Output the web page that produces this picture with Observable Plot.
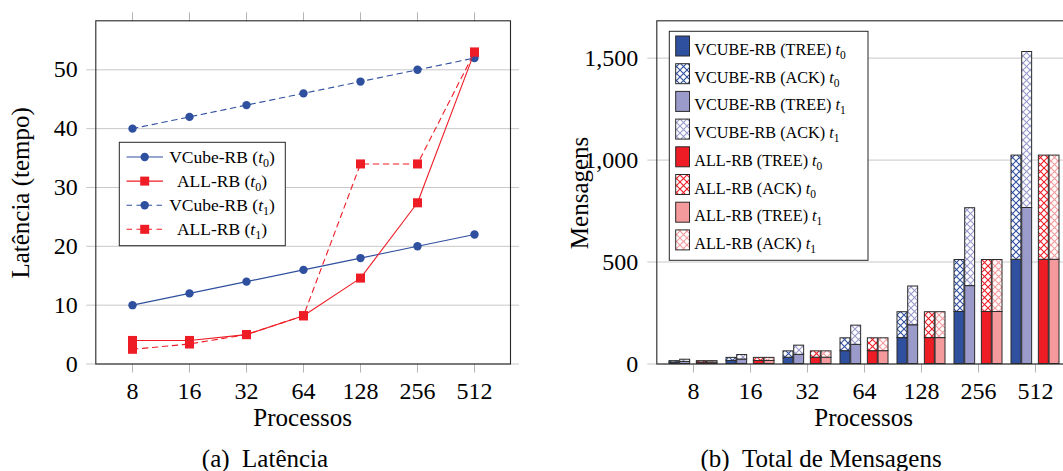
<!DOCTYPE html>
<html>
<head>
<meta charset="utf-8">
<script src="https://cdn.jsdelivr.net/npm/d3@7"></script>
<script src="https://cdn.jsdelivr.net/npm/@observablehq/plot@0.6"></script>
<style>
html, body { margin: 0; padding: 0; background: #fff; overflow: hidden; }
#page { position: relative; width: 1063px; height: 471px; overflow: hidden; background: #fff;
        font-family: "Liberation Serif", "Times New Roman", serif; color: #000; }
.panel { position: absolute; top: 0; width: 530px; height: 430px; }
.caption { position: absolute; top: 446px; font-size: 25px; line-height: 25px; white-space: nowrap;
           transform: translateX(-50%); }
</style>
</head>
<body>
<div id="page">
  <svg width="0" height="0" style="position:absolute;left:0;top:0"><defs id="defs"></defs></svg>
  <div id="chartA" class="panel" style="left:0px"></div>
  <div id="chartB" class="panel" style="left:561px"></div>
  <div class="caption" style="left:265px">(a)&ensp;Latência</div>
  <div class="caption" style="left:821px">(b)&ensp;Total de Mensagens</div>
</div>
<script>
// ---------------- data ----------------
const processos = ["8", "16", "32", "64", "128", "256", "512"];

// (a) Latência (tempo)
const latVCubeT0 = [10, 12, 14, 16, 18, 20, 22];
const latAllT0   = [4, 4, 5, 8.2, 14.6, 27.4, 53];
const latVCubeT1 = [40, 42, 44, 46, 48, 50, 52];
const latAllT1   = [2.5, 3.4, 5, 8.2, 34, 34, 53];
const latYTicks  = [0, 10, 20, 30, 40, 50];
const latLegendNames = ["VCube-RB", "ALL-RB", "VCube-RB", "ALL-RB"];
const latLegendSubs  = ["0", "0", "1", "1"];

// (b) Total de Mensagens
const vcubeTreeT0 = [7, 15, 31, 63, 127, 255, 511];
const vcubeAckT0  = [7, 15, 31, 63, 127, 255, 511];
const vcubeTreeT1 = [10.5, 22, 45, 94, 190, 382, 765];
const vcubeAckT1  = [10.5, 22, 45, 94, 190, 382, 765];
const allTreeT0   = [7, 15, 31, 63, 127, 255, 511];
const allAckT0    = [7, 15, 31, 63, 127, 255, 511];
const allTreeT1   = [7, 15, 31, 63, 127, 255, 511];
const allAckT1    = [7, 15, 31, 63, 127, 255, 511];
const msgYTicks   = [0, 500, 1000, 1500];
const msgLegendNames = ["VCUBE-RB (TREE)", "VCUBE-RB (ACK)", "VCUBE-RB (TREE)", "VCUBE-RB (ACK)",
                        "ALL-RB (TREE)", "ALL-RB (ACK)", "ALL-RB (TREE)", "ALL-RB (ACK)"];
const msgLegendSubs  = ["0", "0", "1", "1", "0", "0", "1", "1"];

// ---------------- styles ----------------
const FONT = '"Liberation Serif","Times New Roman",serif';
const BLUE = "#2f4f9f", RED = "#ee1c25", LAV = "#9a9acb", PINK = "#f4999c";
const GRID = "#c8c8c8", TICK = "#b4b4b4", FRAME = "#262626", BARSTROKE = "#2a2a2a";
const W = 530, H = 430, ML = 95.3, MR = 20, MT = 20.3, MB = H - 363.5;
const XLABEL_Y = 425.5;

// crosshatch patterns
const defs = d3.select("#defs");
function hatch(id, color) {
  const s = 7;
  const p = defs.append("pattern").attr("id", id).attr("patternUnits", "userSpaceOnUse")
    .attr("width", s).attr("height", s);
  p.append("rect").attr("width", s).attr("height", s).attr("fill", "#fff");
  p.append("path").attr("d", `M-1,-1L${s + 1},${s + 1}M${s + 1},-1L-1,${s + 1}`)
    .attr("stroke", color).attr("stroke-width", 1.1).attr("fill", "none");
}
hatch("hBlue", BLUE); hatch("hLav", LAV); hatch("hRed", RED); hatch("hPink", PINK);

function subLabel(sel, name, sub, paren, subSize) {
  sel.append("tspan").text(name + (paren ? " (" : " "));
  sel.append("tspan").attr("font-style", "italic").text("t");
  sel.append("tspan").attr("dy", 4).attr("font-size", subSize).text(sub);
  if (paren) sel.append("tspan").attr("dy", -4).text(")");
}

// ---------------- chart (a) ----------------
const rowsOf = vals => processos.map((p, i) => ({p, v: vals[i]}));
const latSeries = [
  {vals: latVCubeT0, color: BLUE, dash: null, symbol: "circle"},
  {vals: latAllT0, color: RED, dash: null, symbol: "square"},
  {vals: latVCubeT1, color: BLUE, dash: "5.5,4.5", symbol: "circle"},
  {vals: latAllT1, color: RED, dash: "5.5,4.5", symbol: "square"}
];
const latMarks = [
  Plot.ruleY(latYTicks, {stroke: GRID, strokeWidth: 1, insetLeft: -9, insetRight: -9}),
  Plot.axisX({anchor: "bottom", tickSize: 9, tickPadding: 8.5, stroke: TICK, fill: "#000", fontSize: 24, label: null}),
  Plot.axisX({anchor: "top", tickSize: 9, stroke: TICK, tickFormat: () => "", label: null}),
  Plot.axisY({anchor: "left", ticks: latYTicks, tickSize: 0, tickPadding: 18, fill: "#000", fontSize: 24, label: null}),
  Plot.frame({stroke: FRAME, strokeWidth: 1.1})
];
for (const s of latSeries) {
  const rows = rowsOf(s.vals);
  latMarks.push(Plot.line(rows, {x: "p", y: "v", stroke: s.color, strokeWidth: 1.1, strokeDasharray: s.dash}));
  latMarks.push(Plot.dot(rows, {x: "p", y: "v", symbol: s.symbol, r: s.symbol === "circle" ? 4.2 : 5.1, fill: s.color, stroke: "none"}));
}
const svgA = Plot.plot({
  width: W, height: H, marginLeft: ML, marginRight: MR, marginTop: MT, marginBottom: MB,
  style: {fontFamily: FONT, fontSize: "24px", background: "transparent", maxWidth: "none", overflow: "visible"},
  x: {type: "point", domain: processos, padding: 0.6, label: null},
  y: {domain: [0, 58.33], label: null},
  marks: latMarks
});
document.getElementById("chartA").append(svgA);
{
  const g = d3.select(svgA).append("g").attr("font-family", FONT);
  g.append("text").attr("x", (ML + W - MR) / 2).attr("y", XLABEL_Y).attr("text-anchor", "middle")
    .attr("font-size", 25).text("Processos");
  g.append("text").attr("transform", `translate(28.5,${(MT + H - MB) / 2 + 1}) rotate(-90)`)
    .attr("text-anchor", "middle").attr("font-size", 25).text("Latência (tempo)");
  const lg = g.append("g");
  lg.append("rect").attr("x", 119.3).attr("y", 142.3).attr("width", 166).attr("height", 103.4)
    .attr("fill", "#fff").attr("stroke", FRAME).attr("stroke-width", 1);
  latSeries.forEach((s, i) => {
    const y = 157 + i * 24.1;
    lg.append("line").attr("x1", 126.5).attr("x2", 163).attr("y1", y).attr("y2", y)
      .attr("stroke", s.color).attr("stroke-width", 1.1).attr("stroke-dasharray", s.dash);
    if (s.symbol === "circle") lg.append("circle").attr("cx", 144.7).attr("cy", y).attr("r", 4.2).attr("fill", s.color);
    else lg.append("rect").attr("x", 144.7 - 4.5).attr("y", y - 4.5).attr("width", 9).attr("height", 9).attr("fill", s.color);
    const t = lg.append("text").attr("x", 222).attr("y", y + 5.8).attr("text-anchor", "middle").attr("font-size", 17.5);
    subLabel(t, latLegendNames[i], latLegendSubs[i], true, 12);
  });
}

// ---------------- chart (b) ----------------
const padIn = 0.1534, padOut = 0.1767;
const frameW = W - ML - MR;
const step = frameW / (processos.length - padIn + 2 * padOut);
const bandW = step * (1 - padIn);
const BAR_W = 10.7;
const GAP = bandW - 4 * BAR_W;
const msgSeries = [
  {tree: vcubeTreeT0, ack: vcubeAckT0, solid: BLUE, hatch: "url(#hBlue)", left: 0},
  {tree: vcubeTreeT1, ack: vcubeAckT1, solid: LAV, hatch: "url(#hLav)", left: BAR_W},
  {tree: allTreeT0, ack: allAckT0, solid: RED, hatch: "url(#hRed)", left: 2 * BAR_W + GAP},
  {tree: allTreeT1, ack: allAckT1, solid: PINK, hatch: "url(#hPink)", left: 3 * BAR_W + GAP}
];
const msgMarks = [
  Plot.ruleY(msgYTicks, {stroke: GRID, strokeWidth: 1, insetLeft: -9, insetRight: -9}),
  Plot.axisX({anchor: "bottom", tickSize: 9, tickPadding: 8.5, stroke: TICK, fill: "#000", fontSize: 24, label: null}),
  Plot.axisY({anchor: "left", ticks: msgYTicks, tickFormat: d3.format(","), tickSize: 0, tickPadding: 18.6, fill: "#000", fontSize: 24, label: null}),
  Plot.frame({stroke: FRAME, strokeWidth: 1.1})
];
for (const s of msgSeries) {
  const rows = processos.map((p, i) => ({p, tree: s.tree[i], ack: s.ack[i]}));
  const inset = {insetLeft: s.left, insetRight: bandW - s.left - BAR_W};
  msgMarks.push(Plot.barY(rows, {x: "p", y1: () => 0, y2: "tree", fill: s.solid, stroke: BARSTROKE, strokeWidth: 1, ...inset}));
  msgMarks.push(Plot.barY(rows, {x: "p", y1: "tree", y2: d => d.tree + d.ack, fill: s.hatch, stroke: BARSTROKE, strokeWidth: 1, ...inset}));
}
const svgB = Plot.plot({
  width: W, height: H, marginLeft: ML, marginRight: W - ML - frameW, marginTop: MT, marginBottom: MB,
  style: {fontFamily: FONT, fontSize: "24px", background: "transparent", maxWidth: "none", overflow: "visible"},
  x: {type: "band", domain: processos, paddingInner: padIn, paddingOuter: padOut, label: null},
  y: {domain: [0, 1683], label: null},
  marks: msgMarks
});
document.getElementById("chartB").append(svgB);
{
  const g = d3.select(svgB).append("g").attr("font-family", FONT);
  g.append("text").attr("x", ML + frameW / 2).attr("y", XLABEL_Y).attr("text-anchor", "middle")
    .attr("font-size", 25).text("Processos");
  g.append("text").attr("transform", `translate(27.3,${(MT + H - MB) / 2 + 1}) rotate(-90)`)
    .attr("text-anchor", "middle").attr("font-size", 25).text("Mensagens");
  const lg = g.append("g");
  const ox = 561;
  lg.append("rect").attr("x", 669.3 - ox).attr("y", 31.3).attr("width", 198.7).attr("height", 229)
    .attr("fill", "#fff").attr("stroke", FRAME).attr("stroke-width", 1);
  const fills = [BLUE, "url(#hBlue)", LAV, "url(#hLav)", RED, "url(#hRed)", PINK, "url(#hPink)"];
  fills.forEach((f, i) => {
    const base = 55 + i * 27.7;
    lg.append("rect").attr("x", 675.7 - ox).attr("y", base - 19).attr("width", 13.8).attr("height", 20)
      .attr("fill", f).attr("stroke", BARSTROKE).attr("stroke-width", 1);
    const t = lg.append("text").attr("x", 694.3 - ox).attr("y", base).attr("text-anchor", "start").attr("font-size", 16.2);
    subLabel(t, msgLegendNames[i], msgLegendSubs[i], false, 11.5);
  });
}
</script>
</body>
</html>
